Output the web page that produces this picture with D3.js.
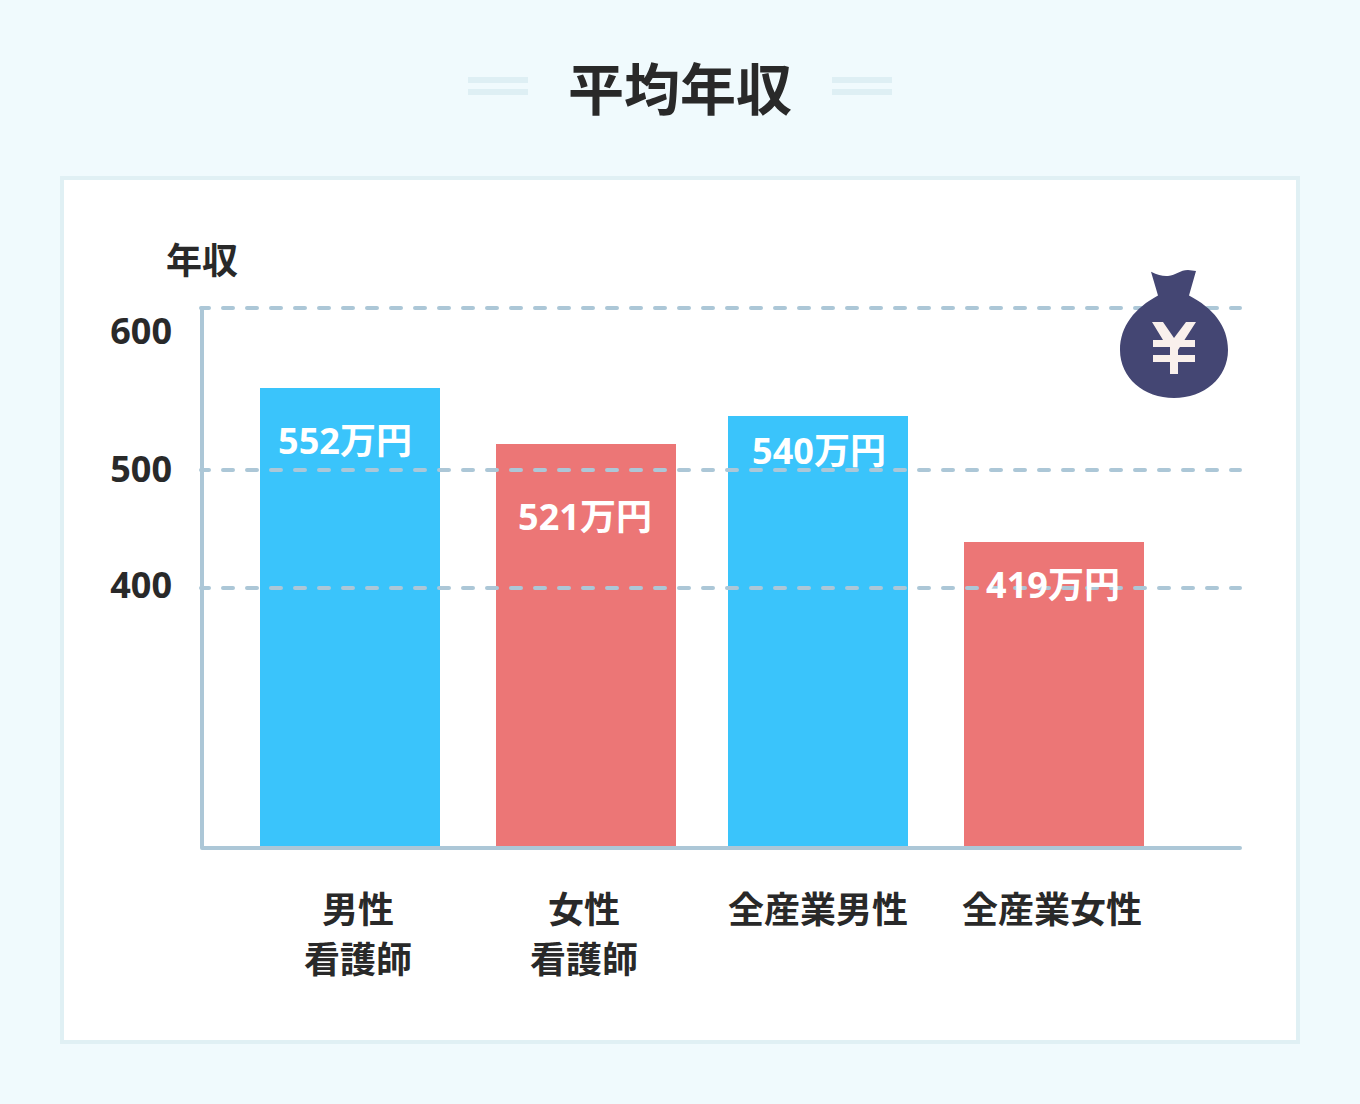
<!DOCTYPE html>
<html lang="ja"><head><meta charset="utf-8">
<script src="https://cdn.jsdelivr.net/npm/d3@7"></script>
<style>html,body{margin:0;padding:0;background:#f0fafd}svg{display:block}
text{font-family:"Noto Sans","Noto Sans CJK JP",sans-serif;font-weight:700}</style>
</head><body><div id="chart"></div>
<script>
const categories = [["男性","看護師"],["女性","看護師"],["全産業男性"],["全産業女性"]];
const salaries = [552,521,540,419];
const barColors = ["#3ac4fb","#ec7676","#3ac4fb","#ec7676"];
const tickValues = [600,500,400];
const valueUnit = "万円";
const titleText = "平均年収";
const axisTitle = "年収";

const W=1360,H=1104;
const svg=d3.select("#chart").append("svg").attr("width",W).attr("height",H);
svg.append("rect").attr("width",W).attr("height",H).attr("fill","#f0fafd");

// title + decorative rules
svg.append("text").attr("x",680).attr("y",110).attr("text-anchor","middle").attr("font-size",56).attr("fill","#292929").text(titleText);
[468,832].forEach(x=>[77,89].forEach(y=>svg.append("rect").attr("x",x).attr("y",y).attr("width",60).attr("height",6).attr("fill","#deeff4")));

// card
svg.append("rect").attr("x",62).attr("y",178).attr("width",1236).attr("height",864).attr("fill","#fff").attr("stroke","#e0f0f4").attr("stroke-width",4);

// the source axis is not linear: piecewise scale through its drawn positions
const y=d3.scaleLinear().domain([600,552,540,521,500,419,400,0]).range([308,388,416,444,470,542,588,848]);
const x=d3.scaleOrdinal().domain(d3.range(4)).range([260,496,728,964]);
const barW=180;
const labelX=d3.scaleOrdinal().domain(d3.range(4)).range([345,585,819,1053]);
const labelY=d3.scaleOrdinal().domain(d3.range(4)).range([441.5,517.5,451.5,585.5]);
const catX=d3.scaleOrdinal().domain(d3.range(4)).range([358,584,818,1052]);
const tickLabelY=d3.scaleOrdinal().domain(tickValues).range([331,469,585]);

svg.selectAll(".bar").data(salaries).join("rect").attr("class","bar")
 .attr("x",(d,i)=>x(i)).attr("y",d=>y(d)).attr("width",barW).attr("height",d=>y(0)-y(d)).attr("fill",(d,i)=>barColors[i]);

// dashed gridlines
svg.selectAll(".grid").data(tickValues).join("line").attr("class","grid")
 .attr("x1",201).attr("x2",1240).attr("y1",d=>y(d)).attr("y2",d=>y(d))
 .attr("stroke","#acc7d7").attr("stroke-width",4).attr("stroke-linecap","round").attr("stroke-dasharray","10 14").attr("stroke-dashoffset",2);

// axes
svg.append("path").attr("d",`M202 ${y(600)}V${y(0)}H1240`).attr("fill","none").attr("stroke","#acc7d7").attr("stroke-width",4).attr("stroke-linecap","round").attr("stroke-linejoin","round");

svg.selectAll(".tick").data(tickValues).join("text").attr("class","tick")
 .attr("x",172).attr("y",d=>tickLabelY(d)).attr("dy","0.36em").attr("text-anchor","end").attr("font-size",36).attr("fill","#292929").text(d=>d);
svg.append("text").attr("x",202).attr("y",261).attr("dy","0.36em").attr("text-anchor","middle").attr("font-size",36).attr("fill","#292929").text(axisTitle);

svg.selectAll(".val").data(salaries).join("text").attr("class","val")
 .attr("x",(d,i)=>labelX(i)).attr("y",(d,i)=>labelY(i)).attr("dy","0.36em").attr("text-anchor","middle").attr("font-size",36).attr("fill","#fff").text(d=>d+valueUnit);

categories.forEach((lines,i)=>{
 lines.forEach((s,j)=>svg.append("text").attr("x",catX(i)).attr("y",910+j*50).attr("dy","0.36em").attr("text-anchor","middle").attr("font-size",36).attr("fill","#292929").text(s));
});

// money bag icon
const bag=svg.append("g");
bag.append("path").attr("fill","#444673").attr("d","M1151 271.7C1158 275 1163 276.5 1168 276C1176 275 1180 270 1188 270L1196 271L1189 295.5C1213 308 1228 326 1228 350C1228 378 1204 398 1174 398C1144 398 1120 378 1120 350C1120 326 1135 308 1158 295.5Z");
bag.append("path").attr("fill","#f9f0ec").attr("d","M1152 322H1163L1174 338L1186 322H1196L1178 350V355H1195V362H1178V374H1170V362H1153V355H1170V347H1153V340H1163Z");
bag.append("path").attr("fill","#f9f0ec").attr("d","M1183 340H1195V347H1178Z");
</script></body></html>
